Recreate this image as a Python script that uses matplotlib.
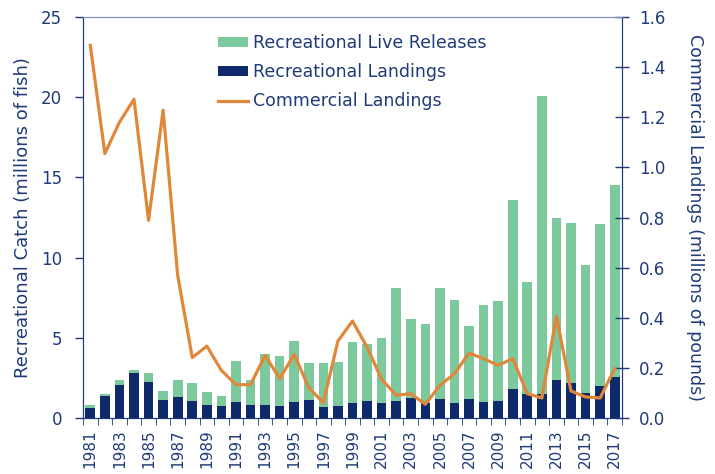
import numpy as np
import matplotlib
matplotlib.use("Agg")
import matplotlib.pyplot as plt
from matplotlib.ticker import FixedLocator

years = list(range(1981, 2018))

# recreational landings and live releases (millions of fish)
rec_landings = [0.65, 1.37, 2.08, 2.81, 2.24, 1.15, 1.31, 1.04, 0.79, 0.73,
                1.02, 0.79, 0.79, 0.76, 1.00, 1.15, 0.67, 0.77, 0.92, 1.06,
                0.92, 1.08, 1.23, 0.92, 1.19, 0.92, 1.19, 0.98, 1.08, 1.81,
                1.48, 1.52, 2.37, 2.18, 1.56, 2.00, 2.56]
live_releases = [0.14, 0.15, 0.27, 0.21, 0.55, 0.53, 1.08, 1.12, 0.83, 0.67,
                 2.53, 1.60, 3.18, 3.09, 3.78, 2.28, 2.74, 2.70, 3.82, 3.55,
                 4.09, 7.01, 4.97, 4.94, 6.90, 6.46, 4.57, 6.07, 6.24, 11.76,
                 6.98, 18.55, 10.08, 9.96, 8.00, 10.08, 11.99]

# commercial landings (millions of pounds)
comm_landings = [1.487, 1.055, 1.18, 1.272, 0.789, 1.228, 0.569, 0.241, 0.287, 0.19,
                 0.133, 0.133, 0.25, 0.157, 0.254, 0.121, 0.061, 0.307, 0.387, 0.283,
                 0.154, 0.091, 0.097, 0.055, 0.13, 0.177, 0.259, 0.237, 0.21, 0.237,
                 0.097, 0.08, 0.406, 0.108, 0.084, 0.08, 0.197]

GREEN = "#7dc99e"
NAVY = "#0e2a6b"
ORANGE = "#e0883a"
TEXT = "#1f3a78"

plt.rcParams["font.family"] = "DejaVu Sans"

fig = plt.figure(figsize=(7.15, 4.74), dpi=100)
ax = fig.add_axes([0.1161, 0.1181, 0.7538, 0.846])
ax2 = ax.twinx()

x = np.arange(len(years))
b1 = ax.bar(x, rec_landings, width=0.66, color=NAVY, zorder=2)
b2 = ax.bar(x, live_releases, width=0.66, bottom=rec_landings, color=GREEN, zorder=2)
l1, = ax2.plot(x, comm_landings, color=ORANGE, lw=2.3, zorder=3)

ax.set_xlim(-0.5, len(years) - 0.5)
ax.set_ylim(0, 25)
ax2.set_ylim(0, 1.6)
ax.set_yticks([0, 5, 10, 15, 20, 25])
ax2.set_yticks(np.arange(0, 1.61, 0.2))
ax2.set_yticklabels([f"{v:.1f}" for v in np.arange(0, 1.61, 0.2)])

# labels every other year, tick marks between every category
ax.set_xticks(x[::2])
ax.set_xticklabels([str(y) for y in years[::2]], rotation=90)
ax.xaxis.set_minor_locator(FixedLocator(np.arange(-0.5, len(years), 1.0)))

for a in (ax, ax2):
    for s in a.spines.values():
        s.set_color(TEXT)
    a.spines["top"].set_color("#8090b8")
    a.tick_params(colors=TEXT, labelsize=12, width=1)

ax.tick_params(axis="x", which="major", length=0, pad=8, labelsize=11)
ax.tick_params(axis="x", which="minor", length=5, color=TEXT, direction="out")
ax.tick_params(axis="y", direction="out", length=6, pad=9)
ax2.tick_params(axis="y", direction="inout", length=10, pad=7)

ax.set_ylabel("Recreational Catch (millions of fish)", color=TEXT, fontsize=13, labelpad=6.5)
ax2.set_ylabel("Commercial Landings (millions of pounds)", color=TEXT, fontsize=12.5,
               rotation=270, labelpad=28)

leg = ax.legend([b2, b1, l1],
                ["Recreational Live Releases", "Recreational Landings", "Commercial Landings"],
                loc="upper left", bbox_to_anchor=(0.2505, 0.958), frameon=False,
                borderaxespad=0, borderpad=0,
                fontsize=12.5, handlelength=1.75, handleheight=0.5,
                handletextpad=0.25, labelspacing=0.65)
for t in leg.get_texts():
    t.set_color(TEXT)
leg.set_zorder(5)

fig.savefig("out.png", dpi=100)
